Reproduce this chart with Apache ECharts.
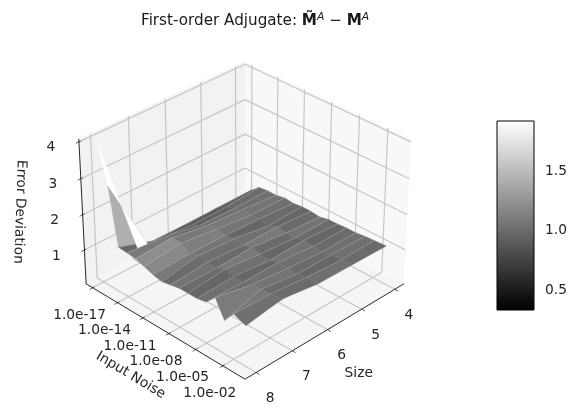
<!DOCTYPE html>
<html>
<head>
<meta charset="utf-8">
<title>First-order Adjugate</title>
<script src="https://cdn.jsdelivr.net/npm/echarts@6/dist/echarts.min.js"></script>
<style>
  html, body { margin: 0; padding: 0; background: #fff; }
  #main { width: 576px; height: 415px; }
</style>
</head>
<body>
<div id="main"></div>
<script>
// ticks
var sizeTicks = [4, 5, 6, 7, 8];
var noiseTicks = [-17, -14, -11, -8, -5, -2];
var noiseTickLabels = ['1.0e-17', '1.0e-14', '1.0e-11', '1.0e-08', '1.0e-05', '1.0e-02'];
var zTicks = [1, 2, 3, 4];
var barTicks = [0.5, 1.0, 1.5];

// surface heights, one row per size, one value per noise exponent
var noiseExp = [-17, -16, -15, -14, -13, -12, -11, -10, -9, -8, -7, -6, -5, -4, -3, -2, -0.7];
var zSize4 = [0.40, 0.70, 0.92, 0.95, 0.95, 1.00, 0.97, 1.00, 1.00, 0.97, 1.03, 1.03, 1.05, 1.05, 1.08, 1.10, 1.12];
var zSize5 = [0.43, 0.70, 0.85, 0.95, 1.05, 1.02, 1.05, 0.98, 1.08, 1.04, 1.03, 1.10, 1.06, 1.04, 1.10, 1.08, 1.14];
var zSize6 = [0.41, 0.70, 0.85, 0.98, 1.12, 1.14, 1.10, 1.14, 1.08, 1.16, 1.12, 1.07, 1.16, 1.13, 1.10, 1.15, 1.16];
var zSize7 = [0.30, 0.72, 0.95, 1.18, 1.30, 1.28, 1.12, 1.20, 1.16, 1.12, 1.24, 1.18, 1.15, 1.24, 1.25, 1.26, 1.32];
var zSize8 = [3.90, 2.90, 1.30, 1.28, 1.25, 1.17, 1.08, 1.03, 1.08, 1.13, 1.13, 1.13, 1.18, 1.45, 0.96, 1.29, 1.16];
var zRows = [zSize4, zSize5, zSize6, zSize7, zSize8];

// face values read from the shade of each cell against the colour bar
var faceSize4to5 = [0.82, 0.94, 1.00, 1.03, 1.06, 1.03, 1.00, 0.97, 1.00, 1.06, 1.00, 0.97, 1.00, 1.03, 1.03, 1.00];
var faceSize5to6 = [0.86, 0.90, 0.94, 1.03, 1.09, 1.06, 0.97, 1.03, 1.09, 1.00, 0.97, 1.06, 1.03, 1.00, 0.97, 1.03];
var faceSize6to7 = [0.90, 0.90, 0.94, 1.00, 1.09, 1.12, 1.06, 1.03, 1.00, 1.09, 1.03, 0.97, 1.03, 1.06, 1.00, 1.00];
var faceSize7to8 = [1.92, 1.42, 0.98, 1.09, 1.21, 1.18, 1.08, 1.00, 1.06, 1.00, 0.97, 1.03, 1.00, 1.10, 1.08, 1.03];
var faceRows = [faceSize4to5, faceSize5to6, faceSize6to7, faceSize7to8];

// axis limits of the cube
var sizeLim = [3.72, 8.3];
var noiseLim = [-17.8, 0.4];
var zLim = [0.02, 4.08];
var barMin = 0.34;
var barMax = 1.917;

// camera, close to a default mplot3d box
var elev = 32 * Math.PI / 180;
var azim = 45 * Math.PI / 180;
var dist = 10;
var boxW = 1.143;
var boxH = 0.85;
var pxScale = 2010;
var centerX = 245;
var centerY = 213;

function toBox(size, noise, z) {
  return [
    ((size - sizeLim[0]) / (sizeLim[1] - sizeLim[0]) - 0.5) * boxW,
    ((noise - noiseLim[0]) / (noiseLim[1] - noiseLim[0]) - 0.5) * boxW,
    ((z - zLim[0]) / (zLim[1] - zLim[0]) - 0.5) * boxH
  ];
}

// returns [screenX, screenY, depth] in the units of the hidden axes
function project(size, noise, z) {
  var p = toBox(size, noise, z);
  var right = p[1] * Math.cos(azim) - p[0] * Math.sin(azim);
  var toward = (p[0] * Math.cos(azim) + p[1] * Math.sin(azim)) * Math.cos(elev) + p[2] * Math.sin(elev);
  var up = p[2] * Math.cos(elev) - (p[0] * Math.cos(azim) + p[1] * Math.sin(azim)) * Math.sin(elev);
  var w = dist - toward;
  return [right / w, up / w, w];
}

function pt(api, size, noise, z) {
  var p = project(size, noise, z);
  return api.coord([p[0], p[1]]);
}

// surface cells, far ones first
var cellRows = [];
for (var s = 0; s < zRows.length - 1; s++) {
  for (var n = 0; n < noiseExp.length - 1; n++) {
    var depth = (project(sizeTicks[s], noiseExp[n], zRows[s][n])[2] +
      project(sizeTicks[s], noiseExp[n + 1], zRows[s][n + 1])[2] +
      project(sizeTicks[s + 1], noiseExp[n], zRows[s + 1][n])[2] +
      project(sizeTicks[s + 1], noiseExp[n + 1], zRows[s + 1][n + 1])[2]) / 4;
    cellRows.push([s, n, depth, faceRows[s][n]]);
  }
}
cellRows.sort(function (a, b) { return b[2] - a[2]; });

function renderCell(params, api) {
  var s = api.value(0), n = api.value(1);
  var a = pt(api, sizeTicks[s], noiseExp[n], zRows[s][n]);
  var b = pt(api, sizeTicks[s], noiseExp[n + 1], zRows[s][n + 1]);
  var c = pt(api, sizeTicks[s + 1], noiseExp[n + 1], zRows[s + 1][n + 1]);
  var d = pt(api, sizeTicks[s + 1], noiseExp[n], zRows[s + 1][n]);
  var color = api.visual('color');
  var children = [{
    type: 'polygon',
    shape: { points: [a, b, c, d] },
    style: { fill: color, stroke: color, lineWidth: 0.4 }
  }];
  if (n > 0) {
    children.push({
      type: 'line',
      shape: { x1: a[0], y1: a[1], x2: d[0], y2: d[1] },
      style: { stroke: 'rgba(205,205,205,0.4)', lineWidth: 0.7 }
    });
  }
  return { type: 'group', children: children };
}

// panes: 0 floor, 1 left wall, 2 right wall
var paneColors = ['#f5f5f5', '#f2f2f2', '#f8f8f8'];

function renderPane(params, api) {
  var i = params.dataIndex;
  var s0 = sizeLim[0], s1 = sizeLim[1], n0 = noiseLim[0], n1 = noiseLim[1], z0 = zLim[0], z1 = zLim[1];
  var corners = i === 0
    ? [pt(api, s0, n0, z0), pt(api, s1, n0, z0), pt(api, s1, n1, z0), pt(api, s0, n1, z0)]
    : i === 1
      ? [pt(api, s0, n0, z0), pt(api, s1, n0, z0), pt(api, s1, n0, z1), pt(api, s0, n0, z1)]
      : [pt(api, s0, n0, z0), pt(api, s0, n1, z0), pt(api, s0, n1, z1), pt(api, s0, n0, z1)];
  return { type: 'polygon', shape: { points: corners }, style: { fill: paneColors[i] } };
}

// segments in data space: size, noise, z to size, noise, z, kind
var segRows = [];
var s0 = sizeLim[0], s1 = sizeLim[1], n0 = noiseLim[0], n1 = noiseLim[1], z0 = zLim[0], z1 = zLim[1];
sizeTicks.forEach(function (v) {
  segRows.push([v, n0, z0, v, n1, z0, 0]);
  segRows.push([v, n0, z0, v, n0, z1, 0]);
  segRows.push([v, n1 - 0.0, z0, v, n1 + 0.35, z0, 1]);
});
noiseTicks.forEach(function (v) {
  segRows.push([s0, v, z0, s1, v, z0, 0]);
  segRows.push([s0, v, z0, s0, v, z1, 0]);
  segRows.push([s1 - 0.05, v, z0, s1 + 0.08, v, z0, 1]);
});
zTicks.forEach(function (v) {
  segRows.push([s0, n0, v, s1, n0, v, 0]);
  segRows.push([s0, n0, v, s0, n1, v, 0]);
  segRows.push([s1 - 0.05, n0, v, s1 + 0.08, n0, v, 1]);
});
segRows.push([s1, n0, z0, s1, n1, z0, 2]);
segRows.push([s0, n1, z0, s1, n1, z0, 2]);
segRows.push([s1, n0, z0, s1, n0, z1, 2]);

var segStyles = [
  { stroke: '#c6c6c6', lineWidth: 1.2 },
  { stroke: '#333', lineWidth: 0.8 },
  { stroke: '#111', lineWidth: 0.9 }
];

function renderSeg(params, api) {
  var a = pt(api, api.value(0), api.value(1), api.value(2));
  var b = pt(api, api.value(3), api.value(4), api.value(5));
  return {
    type: 'line',
    shape: { x1: a[0], y1: a[1], x2: b[0], y2: b[1] },
    style: segStyles[api.value(6)]
  };
}

// text labels hang off a point of the cube
var fontFamily = '"DejaVu Sans", sans-serif';
var labelRows = [];
sizeTicks.forEach(function (v) { labelRows.push([String(v), v, n1, z0, 14, 26, 0]); });
noiseTicks.forEach(function (v, i) { labelRows.push([noiseTickLabels[i], s1, v, z0, -13, 28, 0]); });
zTicks.forEach(function (v) { labelRows.push([String(v), s1, n0, v, -28, 6, 0]); });
labelRows.push(['Size', 5.5, n1, z0, 14, 54, 0]);
labelRows.push(['Input Noise', s1, -11.5, z0, -8, 60, -31]);
labelRows.push(['Error Deviation', s1, n0, 2, -63, -3, -92]);

function renderLabel(params, api) {
  var row = labelRows[params.dataIndex];
  var p = pt(api, row[1], row[2], row[3]);
  return {
    type: 'text',
    x: p[0] + row[4],
    y: p[1] + row[5],
    rotation: row[6] * Math.PI / 180,
    style: {
      text: row[0],
      fill: '#262626',
      font: '13.8px ' + fontFamily,
      textAlign: 'center',
      textVerticalAlign: 'middle'
    }
  };
}

function renderBar(params, api) {
  var a = api.coord([0, barMax]);
  var b = api.coord([1, barMin]);
  return {
    type: 'rect',
    shape: { x: a[0], y: a[1], width: b[0] - a[0], height: b[1] - a[1] },
    style: {
      fill: new echarts.graphic.LinearGradient(0, 0, 0, 1, [
        { offset: 0, color: '#ffffff' },
        { offset: 1, color: '#000000' }
      ])
    }
  };
}

var chart = echarts.init(document.getElementById('main'), null, { renderer: 'canvas' });

chart.setOption({
  animation: false,
  backgroundColor: '#fff',
  title: {
    left: 136,
    top: 7,
    text: '{a|First-order Adjugate: }{m|M\u0303}{s|A}{a| \u2212 }{m|M}{s|A}',
    textStyle: {
      fontWeight: 'normal',
      rich: {
        a: { fontFamily: fontFamily, fontSize: 15.2, fontWeight: 'normal', color: '#1a1a1a' },
        m: { fontFamily: fontFamily, fontSize: 15.2, fontWeight: 'bold', color: '#1a1a1a' },
        s: { fontFamily: fontFamily, fontSize: 10.8, fontWeight: 'normal', fontStyle: 'italic', color: '#1a1a1a', padding: [0, 0, 7, 0] }
      }
    }
  },
  grid: [
    { left: 0, top: 0, width: 576, height: 415, show: false },
    { left: 497, top: 121, width: 37, height: 189, show: true, z: 10, backgroundColor: 'transparent', borderColor: '#000', borderWidth: 1 }
  ],
  xAxis: [
    { gridIndex: 0, type: 'value', show: false, min: -centerX / pxScale, max: (576 - centerX) / pxScale },
    { gridIndex: 1, type: 'value', show: false, min: 0, max: 1 }
  ],
  yAxis: [
    { gridIndex: 0, type: 'value', show: false, min: -(415 - centerY) / pxScale, max: centerY / pxScale },
    {
      gridIndex: 1,
      type: 'value',
      position: 'right',
      min: barMin,
      max: barMax,
      splitLine: { show: false },
      axisLine: { show: false },
      axisTick: { show: true, length: 5, customValues: barTicks, lineStyle: { color: '#000', width: 1 } },
      axisLabel: {
        customValues: barTicks,
        margin: 11,
        color: '#262626',
        fontFamily: fontFamily,
        fontSize: 13.8,
        formatter: function (v) { return v.toFixed(1); }
      }
    }
  ],
  visualMap: {
    show: false,
    type: 'continuous',
    seriesIndex: 3,
    dimension: 3,
    min: barMin,
    max: barMax,
    inRange: { color: ['#000000', '#ffffff'] }
  },
  series: [
    { type: 'custom', silent: true, coordinateSystem: 'cartesian2d', data: paneColors.map(function (c, i) { return [i]; }), renderItem: renderPane, clip: false, encode: { x: 0, y: 0 } },
    { type: 'custom', silent: true, coordinateSystem: 'cartesian2d', data: segRows.filter(function (r) { return r[6] === 0; }), renderItem: renderSeg, clip: false, encode: { x: 0, y: 1 } },
    { type: 'custom', silent: true, coordinateSystem: 'cartesian2d', data: segRows.filter(function (r) { return r[6] !== 0; }), renderItem: renderSeg, clip: false, encode: { x: 0, y: 1 } },
    { type: 'custom', silent: true, coordinateSystem: 'cartesian2d', data: cellRows, renderItem: renderCell, clip: false, encode: { x: 0, y: 1 } },
    { type: 'custom', silent: true, coordinateSystem: 'cartesian2d', data: labelRows.map(function (r, i) { return [i]; }), renderItem: renderLabel, clip: false, encode: { x: 0, y: 0 } },
    { type: 'custom', silent: true, coordinateSystem: 'cartesian2d', xAxisIndex: 1, yAxisIndex: 1, data: [[0, barMin]], renderItem: renderBar, clip: false, encode: { x: 0, y: 1 } }
  ]
});
</script>
</body>
</html>
